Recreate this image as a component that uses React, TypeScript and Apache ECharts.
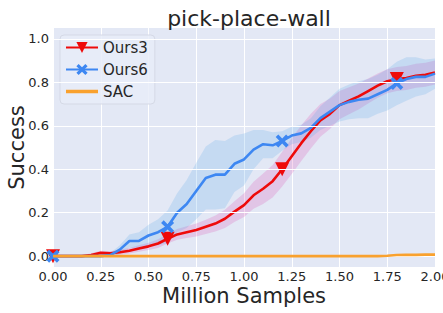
import React, { useEffect, useRef } from "react";
import * as echarts from "echarts";

const xs = [0, 0.05, 0.1, 0.15, 0.2, 0.25, 0.3, 0.35, 0.4, 0.45, 0.5, 0.55, 0.6, 0.65, 0.7, 0.75, 0.8, 0.85, 0.9, 0.95, 1.0, 1.05, 1.1, 1.15, 1.2, 1.25, 1.3, 1.35, 1.4, 1.45, 1.5, 1.55, 1.6, 1.65, 1.7, 1.75, 1.8, 1.85, 1.9, 1.95, 2.0];

const ours3 = [0, 0, 0, 0, 0.005, 0.015, 0.013, 0.018, 0.025, 0.035, 0.045, 0.058, 0.08, 0.1, 0.11, 0.12, 0.135, 0.15, 0.172, 0.205, 0.235, 0.28, 0.31, 0.345, 0.4, 0.46, 0.52, 0.575, 0.625, 0.655, 0.695, 0.715, 0.735, 0.76, 0.785, 0.805, 0.815, 0.82, 0.83, 0.835, 0.845];
const ours3Std = [0.004, 0.004, 0.004, 0.004, 0.008, 0.01, 0.01, 0.012, 0.013, 0.015, 0.017, 0.02, 0.022, 0.025, 0.027, 0.03, 0.033, 0.037, 0.042, 0.048, 0.055, 0.062, 0.07, 0.075, 0.08, 0.082, 0.082, 0.08, 0.075, 0.07, 0.065, 0.062, 0.06, 0.058, 0.056, 0.055, 0.055, 0.055, 0.055, 0.055, 0.055];

const ours6 = [0, 0, 0, 0, 0, 0, 0.005, 0.03, 0.07, 0.07, 0.095, 0.11, 0.135, 0.2, 0.24, 0.3, 0.36, 0.375, 0.375, 0.425, 0.445, 0.49, 0.515, 0.51, 0.53, 0.555, 0.565, 0.59, 0.635, 0.665, 0.695, 0.71, 0.72, 0.725, 0.745, 0.765, 0.795, 0.815, 0.825, 0.825, 0.84];
const ours6Std = [0.003, 0.003, 0.003, 0.003, 0.003, 0.003, 0.01, 0.02, 0.03, 0.04, 0.05, 0.06, 0.075, 0.09, 0.11, 0.13, 0.145, 0.16, 0.155, 0.13, 0.12, 0.09, 0.065, 0.06, 0.045, 0.04, 0.04, 0.045, 0.055, 0.065, 0.075, 0.08, 0.085, 0.09, 0.09, 0.095, 0.1, 0.1, 0.09, 0.08, 0.07];

const sac = [0, 0, 0, 0, 0, 0, 0, 0, 0, 0, 0, 0, 0, 0, 0, 0, 0, 0, 0, 0, 0, 0, 0, 0, 0, 0, 0, 0, 0, 0, 0, 0, 0, 0, 0, 0.002, 0.005, 0.006, 0.006, 0.007, 0.007];

const markerIdx = [0, 12, 24, 36];
const yTicks = [0, 0.2, 0.4, 0.6, 0.8, 1.0];

const RED = "#EE0A0A";
const BLUE = "#3D87F2";
const ORANGE = "#F9A12E";
const FONT = "DejaVu Sans";
const TXT = "#262626";

const X_PATH = "path://M2,0 L5,3 L8,0 L10,2 L7,5 L10,8 L8,10 L5,7 L2,10 L0,8 L3,5 L0,2 Z";
const LINE_ICON = "path://M0,0 L0,0.01 M0,5.3 L32,5.3 L32,8.7 L0,8.7 Z M32,13.99 L32,14";

function bandSeries(mean: number[], std: number[], color: string) {
  return {
    type: "custom",
    silent: true,
    clip: true,
    z: 1,
    data: [[0, 0]],
    renderItem: (_params: any, api: any) => {
      const pts: number[][] = [];
      for (let i = 0; i < xs.length; i++) pts.push(api.coord([xs[i], mean[i] + std[i]]));
      for (let i = xs.length - 1; i >= 0; i--) pts.push(api.coord([xs[i], Math.max(-0.05, mean[i] - std[i])]));
      return { type: "polygon", shape: { points: pts }, style: { fill: color } };
    },
  };
}

function lineSeries(name: string, ys: number[], color: string, symbol: string, rotate: number, size: number, z: number) {
  return {
    name,
    type: "line",
    z,
    clip: true,
    symbol,
    symbolRotate: rotate,
    symbolSize: size,
    showSymbol: true,
    itemStyle: { color },
    lineStyle: { color, width: 2.6 },
    data: xs.map((x, i) => (markerIdx.includes(i) ? { value: [x, ys[i]] } : { value: [x, ys[i]], symbol: "none" })),
  };
}

export default function App() {
  const ref = useRef<HTMLDivElement>(null);
  useEffect(() => {
    const chart = echarts.init(ref.current!, null, { renderer: "svg" });
    const legendText = { fontFamily: FONT, fontSize: 15, color: TXT };
    chart.setOption({
      animation: false,
      backgroundColor: "#ffffff",
      title: {
        text: "pick-place-wall",
        left: 244,
        textAlign: "center",
        top: 2,
        textStyle: { fontFamily: FONT, fontSize: 22, fontWeight: "normal", color: TXT },
      },
      grid: {
        left: 53,
        right: 8,
        top: 28,
        bottom: 46,
        outerBoundsMode: "none",
        containLabel: false,
        show: true,
        backgroundColor: "#E3E8F5",
        borderWidth: 0,
      },
      legend: {
        left: 60,
        top: 35,
        orient: "vertical",
        itemWidth: 32,
        itemHeight: 14,
        itemGap: 7,
        padding: [5, 7, 5, 5],
        backgroundColor: "rgba(232,236,248,0.85)",
        borderColor: "#D5D9E6",
        borderWidth: 1,
        borderRadius: 4,
        textStyle: legendText,
        data: [
          { name: "Ours3", textStyle: legendText },
          { name: "Ours6", textStyle: legendText },
          { name: "SAC", icon: LINE_ICON, textStyle: legendText },
        ],
      },
      xAxis: {
        type: "value",
        min: 0,
        max: 2,
        interval: 0.25,
        name: "Million Samples",
        nameLocation: "middle",
        nameGap: 18,
        nameMoveOverlap: false,
        nameTextStyle: { fontFamily: FONT, fontSize: 21, color: TXT },
        axisLine: { show: false },
        axisTick: { show: false },
        axisLabel: { fontFamily: FONT, fontSize: 13, color: TXT, margin: 3, formatter: (v: number) => v.toFixed(2), showMaxLabel: true },
        splitLine: { show: true, lineStyle: { color: "#FFFFFF", width: 1 } },
      },
      yAxis: {
        type: "value",
        min: -0.05,
        max: 1.05,
        name: "Success",
        nameLocation: "middle",
        nameGap: 26,
        nameMoveOverlap: false,
        nameTextStyle: { fontFamily: FONT, fontSize: 21, color: TXT },
        axisLine: { show: false },
        axisTick: { show: false, customValues: yTicks },
        axisLabel: { fontFamily: FONT, fontSize: 13, color: TXT, margin: 4, customValues: yTicks, formatter: (v: number) => v.toFixed(1) },
        splitLine: { show: false },
      },
      series: [
        bandSeries(ours3, ours3Std, "rgba(222,62,170,0.2)"),
        bandSeries(ours6, ours6Std, "rgba(92,170,230,0.22)"),
        {
          type: "line",
          silent: true,
          symbol: "none",
          data: [],
          z: 0,
          markLine: {
            silent: true,
            symbol: "none",
            label: { show: false },
            lineStyle: { color: "#FFFFFF", width: 1, type: "solid" },
            data: yTicks.map((v) => ({ yAxis: v })),
          },
        },
        lineSeries("Ours3", ours3, RED, "triangle", 180, 14, 3),
        lineSeries("Ours6", ours6, BLUE, X_PATH, 0, 13, 4),
        {
          name: "SAC",
          type: "line",
          z: 5,
          symbol: "none",
          itemStyle: { color: ORANGE },
          lineStyle: { color: ORANGE, width: 2.6 },
          data: xs.map((x, i) => [x, sac[i]]),
        },
      ],
    });
    return () => chart.dispose();
  }, []);
  return <div ref={ref} style={{ position: "fixed", left: 0, top: 0, width: 443, height: 313 }} />;
}
